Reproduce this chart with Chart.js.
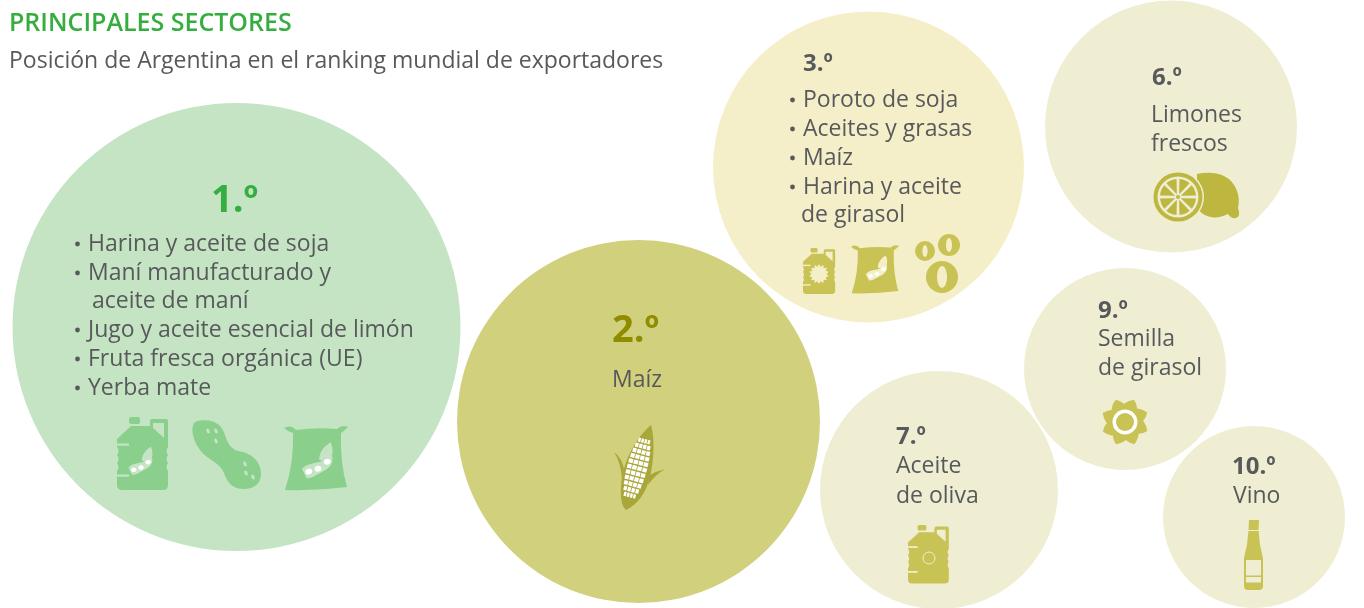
<!DOCTYPE html>
<html>
<head>
<meta charset="utf-8">
<title>Principales sectores</title>
<script src="https://cdn.jsdelivr.net/npm/chart.js@4/dist/chart.umd.min.js"></script>
<style>
    html, body { margin: 0; padding: 0; background: #ffffff; overflow: hidden; }
    #wrap { position: relative; width: 1364px; height: 608px; }
</style>
</head>
<body>
<div id="wrap"><canvas id="ranking"></canvas></div>
<script>
const titleText = 'PRINCIPALES SECTORES'
const subtitleText = 'Posición de Argentina en el ranking mundial de exportadores'

// One bubble per ranking position
const ranks = ['1.º', '2.º', '3.º', '6.º', '7.º', '9.º', '10.º']
const bubbleX = [236.5, 638.5, 868.5, 1171, 939, 1125, 1254]
const bubbleY = [327, 421.5, 167, 126.5, 490, 369, 517]
const bubbleR = [224, 181.5, 155.5, 126, 119, 101, 91]
const bubbleColors = ['#c4e4c4', '#d1d07c', '#f5efc9', '#efeed3', '#efeed3', '#efeed3', '#efeed3']

const sectors1 = ['Harina y aceite de soja', 'Maní manufacturado y', 'aceite de maní', 'Jugo y aceite esencial de limón', 'Fruta fresca orgánica (UE)', 'Yerba mate']
const sectors2 = ['Maíz']
const sectors3 = ['Poroto de soja', 'Aceites y grasas', 'Maíz', 'Harina y aceite', 'de girasol']
const sectors6 = ['Limones', 'frescos']
const sectors7 = ['Aceite', 'de oliva']
const sectors9 = ['Semilla', 'de girasol']
const sectors10 = ['Vino']

const FONT = '"Open Sans"'
const GREY = '#58595b'
const GREEN = '#35ae3f'

function text(ctx, str, x, y, size, color, weight) {
    ctx.font = (weight || 400) + ' ' + size + 'px ' + FONT
    ctx.fillStyle = color
    ctx.fillText(str, x, y)
}

function bullet(ctx, x, y) {
    ctx.fillStyle = GREY
    ctx.beginPath()
    ctx.arc(x, y, 2.4, 0, Math.PI * 2)
    ctx.fill()
}

function drawPod(ctx, x, y, s, bg) {
    ctx.save()
    ctx.translate(x, y)
    ctx.scale(s, s)
    ctx.fillStyle = bg
    ctx.beginPath()
    ctx.moveTo(1, -3)
    ctx.bezierCurveTo(1, -10, 6, -15, 11, -18)
    ctx.bezierCurveTo(14, -11, 13, -5, 8, 0)
    ctx.closePath()
    ctx.fill()
    ctx.beginPath()
    ctx.moveTo(-14, 5)
    ctx.bezierCurveTo(-8, -1, 0, 1, 6, -3)
    ctx.lineTo(12, -7)
    ctx.bezierCurveTo(14, -1, 11, 4, 5, 7)
    ctx.bezierCurveTo(-1, 10, -6, 14, -10, 13)
    ctx.closePath()
    ctx.fill()
    ctx.fillStyle = '#ffffff'
    ;[[-8, 7.5], [0, 5], [8, -1]].forEach(p => {
        ctx.beginPath()
        ctx.ellipse(p[0], p[1], 3, 2.5, -0.3, 0, Math.PI * 2)
        ctx.fill()
    })
    ctx.restore()
}

// Jug is 51 x 73 at scale 1
function drawJug(ctx, x, y, s, color, bg) {
    ctx.save()
    ctx.translate(x, y)
    ctx.scale(s, s)
    ctx.fillStyle = color
    ctx.beginPath()
    ctx.roundRect(12, 0, 11, 7, 2)
    ctx.fill()
    ctx.beginPath()
    ctx.moveTo(0, 22)
    ctx.lineTo(14, 9)
    ctx.lineTo(33, 9)
    ctx.lineTo(33, 4)
    ctx.quadraticCurveTo(33, 2, 35, 2)
    ctx.lineTo(49, 2)
    ctx.quadraticCurveTo(51, 2, 51, 4)
    ctx.lineTo(51, 30)
    ctx.quadraticCurveTo(48, 34, 51, 38)
    ctx.quadraticCurveTo(48, 42, 51, 46)
    ctx.quadraticCurveTo(48, 50, 51, 54)
    ctx.lineTo(51, 68)
    ctx.quadraticCurveTo(51, 73, 46, 73)
    ctx.lineTo(5, 73)
    ctx.quadraticCurveTo(0, 73, 0, 68)
    ctx.lineTo(0, 54)
    ctx.quadraticCurveTo(3, 50, 0, 46)
    ctx.quadraticCurveTo(3, 42, 0, 38)
    ctx.quadraticCurveTo(3, 34, 0, 30)
    ctx.closePath()
    ctx.fill()
    ctx.fillStyle = bg
    ctx.beginPath()
    ctx.moveTo(36, 6)
    ctx.lineTo(47, 6)
    ctx.lineTo(47, 21)
    ctx.lineTo(36, 11)
    ctx.closePath()
    ctx.fill()
    ctx.fillRect(0, 26.5, 12, 2.2)
    ctx.fillRect(0, 57.5, 12, 2.2)
    ctx.restore()
}

// Sack is 64 x 68 at scale 1
function drawSack(ctx, x, y, s, color) {
    ctx.save()
    ctx.translate(x, y)
    ctx.scale(s, s)
    ctx.fillStyle = color
    ctx.beginPath()
    ctx.moveTo(0, 5)
    ctx.quadraticCurveTo(7, 1, 12, 7)
    ctx.quadraticCurveTo(32, 4, 53, 6)
    ctx.quadraticCurveTo(58, 1, 64, 4)
    ctx.quadraticCurveTo(60, 8, 57, 10)
    ctx.quadraticCurveTo(56, 40, 63, 64)
    ctx.quadraticCurveTo(32, 68, 1, 67)
    ctx.quadraticCurveTo(10, 40, 9, 10)
    ctx.quadraticCurveTo(4, 9, 0, 5)
    ctx.closePath()
    ctx.fill()
    ctx.restore()
}

function drawPeanut(ctx, x, y, color, bg) {
    ctx.save()
    ctx.translate(x, y)
    ctx.fillStyle = color
    ctx.beginPath()
    ctx.moveTo(2, 3)
    ctx.bezierCurveTo(6, -1, 22, -1, 28, 6)
    ctx.bezierCurveTo(35, 13, 33, 27, 46, 31)
    ctx.bezierCurveTo(60, 33, 69, 42, 69, 54)
    ctx.bezierCurveTo(69, 65, 60, 69, 52, 69)
    ctx.bezierCurveTo(40, 69, 35, 62, 32, 53)
    ctx.bezierCurveTo(28, 42, 15, 40, 8, 30)
    ctx.bezierCurveTo(2, 22, -2, 10, 2, 3)
    ctx.closePath()
    ctx.fill()
    ctx.fillStyle = bg
    ;[[16, 11], [24, 11], [24, 21], [53, 44], [54, 53], [61, 57]].forEach(p => {
        ctx.beginPath()
        ctx.ellipse(p[0], p[1], 1.6, 2.6, -0.4, 0, Math.PI * 2)
        ctx.fill()
    })
    ctx.restore()
}

function drawCorn(ctx, x, y, color) {
    ctx.save()
    ctx.translate(x, y)
    ctx.fillStyle = color
    // leaves
    ctx.beginPath()
    ctx.moveTo(1, 27)
    ctx.quadraticCurveTo(9, 33, 11, 44)
    ctx.lineTo(9, 54)
    ctx.quadraticCurveTo(8, 38, 1, 27)
    ctx.closePath()
    ctx.fill()
    ctx.beginPath()
    ctx.moveTo(52, 44)
    ctx.quadraticCurveTo(44, 46, 37, 50)
    ctx.lineTo(35, 60)
    ctx.quadraticCurveTo(42, 50, 52, 44)
    ctx.closePath()
    ctx.fill()
    // ear
    ctx.beginPath()
    ctx.moveTo(38, 0)
    ctx.bezierCurveTo(42, 14, 41, 34, 37, 52)
    ctx.bezierCurveTo(33, 68, 24, 80, 13, 85)
    ctx.bezierCurveTo(7, 80, 7, 66, 9, 52)
    ctx.bezierCurveTo(13, 30, 26, 10, 38, 0)
    ctx.closePath()
    ctx.fill()
    // kernels
    ctx.translate(24, 43)
    ctx.rotate(0.26)
    ctx.fillStyle = '#ffffff'
    for (let row = -5; row <= 5; row++) {
        const half = 10.5 * Math.sqrt(1 - (row * row) / 40)
        for (let col = 0; col < 4; col++) {
            const w = half * 2 / 4
            ctx.fillRect(-half + col * w + 0.4, row * 5.6 - 2, w - 0.8, 4.2)
        }
    }
    ctx.restore()
}

function drawSeeds(ctx, color, bg) {
    ;[[925, 251, 10, 2.6, 6], [949, 245, 11, 3, 7], [942, 277, 16, 5, 11]].forEach(s => {
        ctx.fillStyle = color
        ctx.beginPath()
        ctx.arc(s[0], s[1], s[2], 0, Math.PI * 2)
        ctx.fill()
        ctx.fillStyle = bg
        ctx.beginPath()
        ctx.ellipse(s[0], s[1], s[3], s[4], 0, 0, Math.PI * 2)
        ctx.fill()
    })
}

function drawSun(ctx, x, y, rOut, rIn, color, points) {
    ctx.fillStyle = color
    ctx.beginPath()
    for (let i = 0; i < points * 2; i++) {
        const a = i * Math.PI / points - Math.PI / 2
        const r = i % 2 ? rIn : rOut
        ctx.lineTo(x + Math.cos(a) * r, y + Math.sin(a) * r)
    }
    ctx.closePath()
    ctx.fill()
}

function drawFlower(ctx, x, y, color) {
    ctx.fillStyle = color
    for (let i = 0; i < 8; i++) {
        ctx.save()
        ctx.translate(x, y)
        ctx.rotate(i * Math.PI / 4 + 0.3)
        ctx.beginPath()
        ctx.moveTo(-8, -11)
        ctx.quadraticCurveTo(-8, -19, 2, -24)
        ctx.quadraticCurveTo(9, -18, 8, -11)
        ctx.closePath()
        ctx.fill()
        ctx.restore()
    }
    ctx.beginPath()
    ctx.arc(x, y, 14, 0, Math.PI * 2)
    ctx.fill()
    ctx.fillStyle = '#ffffff'
    ctx.beginPath()
    ctx.arc(x, y, 12.5, 0, Math.PI * 2)
    ctx.fill()
    ctx.fillStyle = color
    ctx.beginPath()
    ctx.arc(x, y, 9, 0, Math.PI * 2)
    ctx.fill()
}

function drawLemon(ctx, color, bg) {
    ctx.fillStyle = color
    ctx.beginPath()
    ctx.moveTo(1197, 174)
    ctx.bezierCurveTo(1206, 172, 1216, 172, 1224, 176)
    ctx.bezierCurveTo(1236, 182, 1241, 196, 1238, 208)
    ctx.quadraticCurveTo(1241, 216, 1236, 218)
    ctx.quadraticCurveTo(1231, 219, 1228, 214)
    ctx.bezierCurveTo(1216, 220, 1204, 218, 1197, 208)
    ctx.closePath()
    ctx.fill()
    const x = 1178, y = 197
    ctx.fillStyle = bg
    ctx.beginPath()
    ctx.arc(x, y, 26, 0, Math.PI * 2)
    ctx.fill()
    ctx.fillStyle = color
    ctx.beginPath()
    ctx.arc(x, y, 24.5, 0, Math.PI * 2)
    ctx.fill()
    ctx.fillStyle = bg
    ctx.beginPath()
    ctx.arc(x, y, 20.5, 0, Math.PI * 2)
    ctx.fill()
    ctx.fillStyle = color
    for (let i = 0; i < 8; i++) {
        const a = i * Math.PI / 4 + Math.PI / 8
        ctx.beginPath()
        ctx.moveTo(x + Math.cos(a) * 3, y + Math.sin(a) * 3)
        ctx.arc(x, y, 18, a - 0.31, a + 0.31)
        ctx.closePath()
        ctx.fill()
    }
    ctx.beginPath()
    ctx.arc(x, y, 2, 0, Math.PI * 2)
    ctx.fill()
}

function drawBottle(ctx, x, y, color, bg) {
    ctx.save()
    ctx.translate(x, y)
    ctx.fillStyle = color
    ctx.beginPath()
    ctx.moveTo(5, 0)
    ctx.lineTo(15, 0)
    ctx.lineTo(14.5, 10)
    ctx.quadraticCurveTo(15, 24, 19, 38)
    ctx.lineTo(19, 66)
    ctx.quadraticCurveTo(19, 70, 15, 70)
    ctx.lineTo(4, 70)
    ctx.quadraticCurveTo(0, 70, 0, 66)
    ctx.lineTo(0, 38)
    ctx.quadraticCurveTo(4, 24, 4.5, 10)
    ctx.closePath()
    ctx.fill()
    ctx.fillStyle = bg
    ctx.fillRect(4, 10, 11, 1)
    ctx.fillRect(2, 40, 15, 15.5)
    ctx.fillRect(2, 57, 15, 5.5)
    ctx.restore()
}

const annotations = {
    id: 'annotations',
    afterDatasetsDraw(chart) {
        const ctx = chart.ctx
        ctx.save()
        ctx.textBaseline = 'alphabetic'
        ctx.textAlign = 'left'

        text(ctx, titleText, 9, 31, 25, GREEN, 600)
        text(ctx, subtitleText, 9, 68, 23, GREY)

        // 1.º
        text(ctx, ranks[0], 211, 212, 38, GREEN, 700)
        const lines1 = [251, 280, 308, 337, 366, 395]
        sectors1.forEach((s, i) => {
            text(ctx, s, i === 2 ? 92 : 88, lines1[i], 23, GREY)
            if (i !== 2) bullet(ctx, 77.5, lines1[i] - 7)
        })
        drawJug(ctx, 117, 417, 1, '#8acf8c', '#c4e4c4')
        drawPod(ctx, 141, 463, 0.9, '#c4e4c4')
        drawPeanut(ctx, 192, 420, '#8acf8c', '#c4e4c4')
        drawSack(ctx, 284, 423, 1, '#8acf8c')
        drawPod(ctx, 318, 463, 1.15, '#c4e4c4')

        // 2.º
        text(ctx, ranks[1], 612, 342, 38, '#8f8c00', 700)
        text(ctx, sectors2[0], 612, 387, 23, GREY)
        drawCorn(ctx, 613, 425, '#a9a63a')

        // 3.º
        text(ctx, ranks[2], 803, 71, 24, GREY, 700)
        const lines3 = [107, 136, 165, 194, 222]
        sectors3.forEach((s, i) => {
            text(ctx, s, i === 4 ? 801 : 803, lines3[i], 23, GREY)
            if (i !== 4) bullet(ctx, 792.5, lines3[i] - 7)
        })
        drawJug(ctx, 803, 248, 0.63, '#c9c255', '#f5efc9')
        drawSun(ctx, 819, 274, 10, 7.5, '#f5efc9', 14)
        drawSack(ctx, 851, 243, 0.75, '#c9c255')
        drawPod(ctx, 877, 270, 0.8, '#f5efc9')
        drawSeeds(ctx, '#c9c255', '#f5efc9')

        // 6.º
        text(ctx, ranks[3], 1152, 85, 24, GREY, 700)
        text(ctx, sectors6[0], 1151, 122, 23, GREY)
        text(ctx, sectors6[1], 1151, 151, 23, GREY)
        drawLemon(ctx, '#bdb63f', '#efeed3')

        // 7.º
        text(ctx, ranks[4], 896, 444, 24, GREY, 700)
        text(ctx, sectors7[0], 896, 473, 23, GREY)
        text(ctx, sectors7[1], 896, 503, 23, GREY)
        drawJug(ctx, 908, 525, 0.8, '#c9c255', '#efeed3')
        ctx.strokeStyle = '#efeed3'
        ctx.lineWidth = 1
        ctx.beginPath()
        ctx.arc(929, 558, 6, 0, Math.PI * 2)
        ctx.stroke()

        // 9.º
        text(ctx, ranks[5], 1098, 318, 24, GREY, 700)
        text(ctx, sectors9[0], 1098, 346, 23, GREY)
        text(ctx, sectors9[1], 1098, 375, 23, GREY)
        drawFlower(ctx, 1125, 422, '#c9c255')

        // 10.º
        text(ctx, ranks[6], 1232, 474, 24, GREY, 700)
        text(ctx, sectors10[0], 1233, 503, 23, GREY)
        drawBottle(ctx, 1244, 520, '#c9c255', '#efeed3')

        ctx.restore()
    }
}

new Chart(document.getElementById('ranking').getContext('2d'), {
    type: 'bubble',
    data: {
        labels: ranks,
        datasets: [{
            label: 'Posición en el ranking',
            data: ranks.map((r, i) => ({ x: bubbleX[i], y: bubbleY[i], r: bubbleR[i] })),
            backgroundColor: bubbleColors,
            borderWidth: 0,
            clip: false
        }]
    },
    options: {
        responsive: true,
        maintainAspectRatio: false,
        animation: false,
        // no extra padding for the big radii, the axes must span the whole canvas
        layout: { padding: 0, autoPadding: false },
        plugins: {
            legend: { display: false },
            tooltip: { enabled: false }
        },
        scales: {
            x: { type: 'linear', min: 0, max: 1364, display: false },
            y: { type: 'linear', min: 0, max: 608, reverse: true, display: false }
        }
    },
    plugins: [annotations]
})
</script>
</body>
</html>
